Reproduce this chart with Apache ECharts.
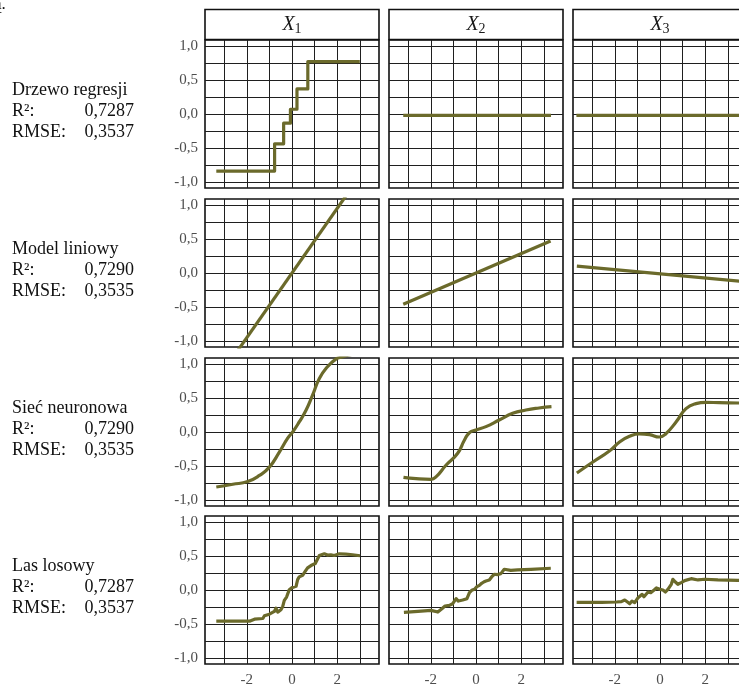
<!DOCTYPE html>
<html>
<head>
<meta charset="utf-8">
<title>Wykresy zależności częściowych</title>
<script src="https://cdn.jsdelivr.net/npm/echarts@6/dist/echarts.min.js"></script>
<style>
    html, body { margin: 0; padding: 0; background: #fff; }
    #chart { width: 739px; height: 685px; }
</style>
</head>
<body>
<div id="chart"></div>
<script type="text/javascript">
// dane
var models = ['Drzewo regresji', 'Model liniowy', 'Sieć neuronowa', 'Las losowy'];
var r2Values = ['0,7287', '0,7290', '0,7290', '0,7287'];
var rmseValues = ['0,3537', '0,3535', '0,3535', '0,3537'];
var variables = ['1', '2', '3'];
var xTicks = [-2, 0, 2];
var yTicks = [-1, -0.5, 0, 0.5, 1];
var xGridLines = [-3, -2, -1, 0, 1, 2, 3];
var yGridLines = [-1, -0.75, -0.5, -0.25, 0, 0.25, 0.5, 0.75, 1];

// drzewo regresji
var treeX1 = [[-3.35, -0.84], [-0.77, -0.84], [-0.77, -0.44], [-0.37, -0.44], [-0.37, -0.135],
    [-0.07, -0.135], [-0.07, 0.07], [0.22, 0.07], [0.22, 0.37], [0.70, 0.37], [0.70, 0.77], [3.0, 0.77]];
var treeX2 = [[-3.22, -0.02], [3.32, -0.02]];
var treeX3 = [[-3.7, -0.02], [3.7, -0.02]];

// model liniowy
var linX1 = [[-3.35, -1.595], [3.0, 1.428]];
var linX2 = [[-3.22, -0.46], [3.30, 0.47]];
var linX3 = [[-3.68, 0.10], [3.7, -0.125]];

// siec neuronowa
var nnX1 = [[-3.35, -0.81], [-2.62, -0.77], [-1.96, -0.73], [-1.44, -0.64], [-1.0, -0.517], [-0.56, -0.296],
    [-0.19, -0.089], [0.03, 0.0], [0.32, 0.148], [0.62, 0.32], [0.91, 0.542], [1.21, 0.788], [1.57, 0.961],
    [1.94, 1.074], [2.16, 1.10], [2.6, 1.14], [3.0, 1.16]];
var nnX2 = [[-3.21, -0.668], [-2.65, -0.688], [-1.99, -0.698], [-1.76, -0.658], [-1.32, -0.486], [-0.81, -0.314],
    [-0.51, -0.118], [-0.29, -0.01], [0, 0.03], [0.44, 0.079], [1.03, 0.177], [1.62, 0.275], [2.21, 0.324],
    [2.79, 0.354], [3.34, 0.373]];
var nnX3 = [[-3.68, -0.604], [-2.97, -0.442], [-2.24, -0.28], [-1.79, -0.147], [-1.35, -0.064], [-0.91, -0.029],
    [-0.47, -0.039], [-0.03, -0.074], [0.26, -0.025], [0.71, 0.147], [1.15, 0.344], [1.59, 0.418], [2.03, 0.437],
    [2.62, 0.432], [3.46, 0.427], [3.7, 0.426]];

// las losowy
var rfX1 = [[-3.35, -0.459], [-1.88, -0.459], [-1.66, -0.43], [-1.29, -0.42], [-1.22, -0.38], [-1.0, -0.356],
    [-0.78, -0.316], [-0.71, -0.267], [-0.63, -0.326], [-0.49, -0.291], [-0.41, -0.242], [-0.34, -0.153],
    [-0.24, -0.104], [-0.12, 0.005], [0.0, 0.035], [0.18, 0.054], [0.25, 0.153], [0.32, 0.193], [0.47, 0.217],
    [0.59, 0.277], [0.69, 0.326], [0.84, 0.36], [1.03, 0.39], [1.21, 0.509], [1.43, 0.533], [1.57, 0.514],
    [1.72, 0.519], [1.87, 0.509], [2.09, 0.533], [2.38, 0.528], [2.68, 0.519], [3.01, 0.504]];
var rfX2 = [[-3.19, -0.33], [-2.57, -0.315], [-1.99, -0.30], [-1.69, -0.325], [-1.51, -0.276], [-1.37, -0.236],
    [-1.18, -0.227], [-1.03, -0.202], [-0.88, -0.128], [-0.78, -0.163], [-0.59, -0.148], [-0.40, -0.128],
    [-0.29, -0.039], [-0.19, -0.005], [-0.07, 0.01], [0.04, 0.049], [0.15, 0.069], [0.25, 0.099], [0.34, 0.118],
    [0.44, 0.133], [0.59, 0.148], [0.69, 0.192], [0.81, 0.232], [0.96, 0.227], [1.10, 0.241], [1.25, 0.305],
    [1.54, 0.29], [1.84, 0.296], [2.43, 0.305], [3.31, 0.32]];
var rfX3 = [[-3.69, -0.182], [-2.59, -0.182], [-1.93, -0.177], [-1.71, -0.172], [-1.56, -0.148], [-1.44, -0.177],
    [-1.34, -0.202], [-1.24, -0.163], [-1.12, -0.187], [-0.97, -0.113], [-0.79, -0.064], [-0.71, -0.099],
    [-0.53, -0.03], [-0.41, -0.039], [-0.26, 0.0], [-0.16, 0.03], [-0.01, 0.01], [0.13, 0.0], [0.24, -0.03],
    [0.35, 0.01], [0.50, 0.084], [0.57, 0.158], [0.68, 0.118], [0.79, 0.084], [0.94, 0.108], [1.09, 0.138],
    [1.38, 0.167], [1.68, 0.148], [1.97, 0.158], [2.56, 0.148], [3.44, 0.143], [3.7, 0.14]];

var panelData = [
    [treeX1, treeX2, treeX3],
    [linX1, linX2, linX3],
    [nnX1, nnX2, nnX3],
    [rfX1, rfX2, rfX3]
];
var smoothRows = [false, false, true, false];

// uklad
var colLefts = [205, 389, 573];
var rowTops = [40, 199, 358, 516];
var panelW = 174, panelH = 148;
var lineColor = '#6b6a2b';
var serif = 'Liberation Serif';

var chart = echarts.init(document.getElementById('chart'));

var grids = [], xAxes = [], yAxes = [], series = [], graphics = [];

function fmt(v) {
    return v.toFixed(1).replace('.', ',');
}

var gridMarks = [];
xGridLines.forEach(function (v) { gridMarks.push({ xAxis: v }); });
yGridLines.forEach(function (v) { gridMarks.push({ yAxis: v }); });

for (var r = 0; r < 4; r++) {
    for (var c = 0; c < 3; c++) {
        var idx = r * 3 + c;
        var bottomRow = (r === 3);
        grids.push({
            left: colLefts[c], top: rowTops[r], width: panelW, height: panelH,
            outerBoundsMode: 'none', containLabel: false,
            show: true, backgroundColor: '#fff', borderColor: '#111', borderWidth: 1.6
        });
        xAxes.push({
            type: 'value', gridIndex: idx, min: -3.85, max: 3.85,
            axisLine: { show: false },
            splitLine: { show: false },
            axisTick: { show: bottomRow, customValues: xTicks, length: 4, lineStyle: { color: '#333' } },
            axisLabel: {
                show: bottomRow, customValues: xTicks, margin: 9,
                fontFamily: serif, fontSize: 15, color: '#4d4d4d',
                formatter: function (v) { return String(v); }
            }
        });
        yAxes.push({
            type: 'value', gridIndex: idx, min: -1.09, max: 1.09,
            axisLine: { show: false },
            splitLine: { show: false },
            axisTick: { show: c === 0, customValues: yTicks, length: 4, lineStyle: { color: '#333' } },
            axisLabel: {
                show: c === 0, customValues: yTicks, margin: 7,
                fontFamily: serif, fontSize: 15, color: '#4d4d4d',
                formatter: fmt
            }
        });
        series.push({
            type: 'line', xAxisIndex: idx, yAxisIndex: idx,
            data: panelData[r][c],
            showSymbol: false, symbol: 'none',
            smooth: smoothRows[r] ? 0.5 : false,
            clip: true, z: 3, silent: true,
            lineStyle: { color: lineColor, width: 3.2, join: 'round' },
            markLine: {
                silent: true, z: 1, symbol: 'none',
                label: { show: false },
                emphasis: { disabled: true },
                lineStyle: { color: '#1f1f1f', width: 1, type: 'solid' },
                data: gridMarks
            }
        });
    }
}

// paski z nazwami zmiennych
variables.forEach(function (v, c) {
    graphics.push({
        type: 'rect', shape: { x: colLefts[c], y: 9.5, width: panelW, height: 30 },
        style: { fill: '#fff', stroke: '#111', lineWidth: 1.6 }
    });
    graphics.push({
        type: 'text', x: colLefts[c] + panelW / 2, y: 25,
        style: {
            text: '{i|X}{s|' + v + '}',
            align: 'center', verticalAlign: 'middle',
            rich: {
                i: { fontFamily: serif, fontStyle: 'italic', fontSize: 20, fill: '#1a1a1a', lineHeight: 22 },
                s: { fontFamily: serif, fontSize: 14, fill: '#1a1a1a', lineHeight: 22, verticalAlign: 'bottom', padding: [6, 0, 0, 0] }
            }
        }
    });
});

// opisy modeli
models.forEach(function (m, r) {
    var mid = rowTops[r] + panelH / 2 - 3;
    var base = { fontFamily: serif, fontSize: 18, fill: '#111', verticalAlign: 'middle' };
    graphics.push({ type: 'text', x: 12, y: mid - 21, style: Object.assign({ text: m, align: 'left' }, base) });
    graphics.push({ type: 'text', x: 12, y: mid, style: Object.assign({ text: 'R²:', align: 'left' }, base) });
    graphics.push({ type: 'text', x: 134, y: mid, style: Object.assign({ text: r2Values[r], align: 'right' }, base) });
    graphics.push({ type: 'text', x: 12, y: mid + 21, style: Object.assign({ text: 'RMSE:', align: 'left' }, base) });
    graphics.push({ type: 'text', x: 134, y: mid + 21, style: Object.assign({ text: rmseValues[r], align: 'right' }, base) });
});

// fragment tekstu z poprzedniej strony
graphics.push({
    type: 'text', x: -6, y: -4,
    style: { text: 'ą.', fontFamily: serif, fontSize: 17, fill: '#111', align: 'left', verticalAlign: 'top' }
});

chart.setOption({
    animation: false,
    grid: grids,
    xAxis: xAxes,
    yAxis: yAxes,
    series: series,
    graphic: graphics
});
</script>
</body>
</html>
